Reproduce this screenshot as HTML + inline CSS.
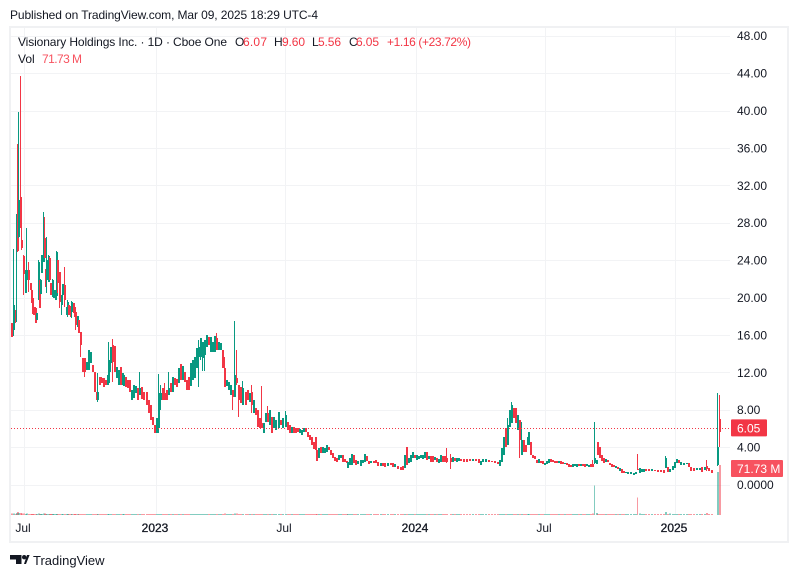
<!DOCTYPE html>
<html lang="en">
<head>
<meta charset="utf-8">
<title>Visionary Holdings Inc. chart</title>
<style>
html,body{margin:0;padding:0;background:#fff;width:798px;height:578px;overflow:hidden}
svg{display:block;font-family:"Liberation Sans",Arial,sans-serif}
</style>
</head>
<body>
<svg id="chart" xmlns="http://www.w3.org/2000/svg" width="798" height="578" viewBox="0 0 798 578">
  <rect x="0" y="0" width="798" height="578" fill="#ffffff"/>
  <text x="10" y="19" font-size="12" fill="#131722" textLength="308" lengthAdjust="spacing">Published on TradingView.com, Mar 09, 2025 18:29 UTC-4</text>
  <rect x="10" y="27" width="778" height="515" fill="none" stroke="#f0f1f3" stroke-width="2"/>
  <g id="grid" shape-rendering="crispEdges"></g>
  <g id="volume" shape-rendering="crispEdges"></g>
  <g id="candles" shape-rendering="crispEdges"></g>
  <g id="overlay"></g>
  <g id="axes"></g>
  <g font-size="12">
    <text x="18" y="46" fill="#131722" textLength="209" lengthAdjust="spacing">Visionary Holdings Inc. · 1D · Cboe One</text>
    <text x="235" y="46" fill="#131722">O</text>
    <text x="243" y="46" fill="#F23645" textLength="24" lengthAdjust="spacing">6.07</text>
    <text x="274" y="46" fill="#131722">H</text>
    <text x="282" y="46" fill="#F23645" textLength="23" lengthAdjust="spacing">9.60</text>
    <text x="312" y="46" fill="#131722">L</text>
    <text x="318" y="46" fill="#F23645" textLength="23" lengthAdjust="spacing">5.56</text>
    <text x="349" y="46" fill="#131722">C</text>
    <text x="356" y="46" fill="#F23645" textLength="23" lengthAdjust="spacing">6.05</text>
    <text x="387" y="46" fill="#F23645" textLength="84" lengthAdjust="spacing">+1.16 (+23.72%)</text>
    <text x="18" y="63" fill="#131722">Vol</text>
    <text x="42" y="63" fill="#F7525F" textLength="40" lengthAdjust="spacing">71.73 M</text>
  </g>
  <g>
    <path d="M10 555h11.5v9h-5.5v-4.5h-6z" fill="#131722"/>
    <circle cx="24.2" cy="557.2" r="2.2" fill="#131722"/>
    <path d="M24 564l3-9h2.6l-3.6 9z" fill="#131722"/>
    <text x="33" y="565" font-size="13" fill="#131722">TradingView</text>
  </g>
</svg>
<script>
const sessions=[
0,2,4,5,6,7,9,10,12,14,15,17,19,20,21,22,24,25,27,28,29,30,32,33,34,35,37,38,39,40,41,42,44,45,46,48,50,51,53,55,56,57,59,60,62,63,64,66,67,69,
71,73,75,77,79,81,83,85,86,88,90,92,94,96,97,99,101,103,105,107,109,111,112,114,116,118,120,122,124,126,128,130,132,135,137,139,141,143,145,147,149,151,153,155,157,159,161,163,165,167,
169,171,173,175,177,179,181,183,185,187,189,191,193,195,197,199,201,203,205,207,209,211,213,215,217,219,221,223,225,227,229,231,234,236,238,240,242,244,246,248,250,252,254,256,258,260,262,264,267,269,
271,274,276,278,280,282,284,286,288,290,292,294,296,298,300,302,304,305,307,309,311,313,315,317,319,321,323,325,327,329,331,333,335,336,338,340,342,344,346,349,351,353,355,357,359,362,364,366,369,371,
373,376,379,381,383,386,389,391,393,395,397,399,401,403,405,407,409,411,413,415,417,419,421,423,425,427,429,431,433,435,439,441,443,445,447,449,452,455,458,461,464,467,469,471,474,477,480,483,486,488,
490,492,494,496,498,500,502,504,506,508,510,512,514,516,517,519,521,523,525,527,529,531,533,535,537,539,541,543,545,547,549,551,553,555,557,559,561,563,565,567,569,571,573,575,577,579,581,583,585,586,
588,590,592,594,596,598,600,602,604,606,608,610,612,614,616,619,622,624,626,628,630,632,634,637,640,643,646,649,652,654,656,658,661,663,665,667,669,672,675,677,679,682,685,688,690,693,695,697,700,706,708];
const highs=[
17.3,25.2,18.7,28.9,36.4,39.8,43.7,27.4,24.5,22.9,27.4,23.8,21.5,20.8,19.9,19.0,19.0,18.3,24.0,21.9,22.0,24.5,29.1,28.6,23.0,26.5,24.5,24.3,21.5,21.3,22.0,20.8,20.8,25.0,24.0,22.7,20.3,21.4,23.3,19.0,19.7,19.2,19.1,19.6,19.4,19.0,18.4,18.0,17.6,16.3,
13.5,13.5,13.1,14.4,14.2,12.8,12.0,9.9,11.9,11.5,11.5,11.4,11.2,11.7,15.2,14.7,15.6,14.8,12.6,12.2,12.6,11.9,11.9,11.5,11.2,11.2,10.1,10.6,10.5,10.3,12.0,10.4,9.9,9.9,9.04,8.5,7.22,6.36,7.11,11.8,10.6,10.3,10.9,10.1,12.0,10.9,11.5,11.4,11.3,12.5,
12.9,12.7,12.0,11.2,11.5,13.0,13.3,13.6,14.6,15.5,15.7,15.2,15.5,16.0,15.8,15.8,15.2,15.9,16.2,15.2,15.1,14.4,13.6,11.2,11.0,10.6,10.1,17.5,14.4,10.6,10.4,11.1,9.9,10.1,9.8,10.6,9.04,8.18,7.97,7.11,10.5,6.58,7.65,8.4,7.97,7.22,7.22,6.9,7.75,6.9,
7.11,7.86,6.68,6.36,6.15,6.15,6.04,6.04,5.94,5.83,6.04,6.04,5.61,5.29,5.08,4.55,5.08,3.69,3.90,4.01,4.01,3.90,4.22,4.01,3.69,3.37,2.94,2.83,3.16,3.16,3.16,2.73,2.51,2.41,2.83,3.26,3.16,2.62,2.51,2.62,2.62,3.26,3.05,2.51,2.51,2.51,2.62,2.41,2.30,2.30,
2.30,2.30,2.30,2.30,2.19,1.98,1.87,1.98,3.16,4.01,2.83,3.16,3.48,3.16,3.16,3.05,3.16,3.16,3.48,3.48,3.05,3.05,3.05,2.94,2.83,2.73,3.16,3.05,3.05,3.90,3.26,2.94,2.83,2.83,2.83,2.73,2.73,2.73,2.73,2.73,2.73,2.73,2.51,2.73,2.73,2.62,2.51,2.51,2.41,2.62,
3.90,5.08,6.04,7.11,7.97,8.82,8.18,8.18,7.43,6.90,6.68,4.76,4.22,5.08,5.61,4.55,3.16,3.05,2.62,2.73,2.51,2.51,2.30,2.51,2.73,2.73,2.62,2.51,2.51,2.51,2.51,2.41,2.30,2.30,2.19,2.09,2.19,2.19,2.19,2.19,2.19,2.19,2.19,2.19,2.09,2.19,2.62,6.68,2.62,4.55,
4.01,3.16,2.83,2.73,2.62,2.30,2.19,2.09,1.98,1.87,1.76,1.66,1.44,1.34,1.34,1.34,1.23,1.34,3.26,1.76,1.66,1.66,1.66,1.66,1.66,1.55,1.55,1.55,1.55,3.05,1.87,1.66,1.98,2.41,2.73,2.62,2.41,2.30,2.30,2.30,1.87,1.76,1.76,1.76,1.87,1.87,2.62,1.76,1.55,9.79,9.60];
const lows=[
15.8,15.9,17.3,17.4,24.9,26.4,27.4,25.1,20.3,20.5,21.5,20.6,20.8,19.4,18.2,18.1,17.3,17.6,19.7,18.9,20.4,22.6,23.8,24.2,21.1,20.5,21.7,21.9,20.3,20.3,20.1,19.9,19.7,20.1,20.5,18.9,18.1,19.7,19.0,18.1,17.9,18.1,17.9,17.8,18.3,17.9,16.5,16.8,16.2,13.6,
12.0,11.5,12.2,12.2,13.0,12.0,9.9,9.04,8.8,10.6,10.9,10.4,10.6,10.6,10.9,12.0,11.0,12.0,11.4,10.6,10.6,10.6,10.5,10.4,10.3,9.9,9.04,9.25,9.8,9.04,9.6,9.15,9.04,8.5,7.65,6.9,6.36,5.51,5.51,5.51,7.97,9.04,9.04,9.04,9.6,9.9,9.9,10.6,10.4,10.9,
11.2,11.2,11.0,10.1,10.1,10.5,11.2,11.4,12.5,10.4,13.3,12.1,12.1,14.7,14.9,14.2,14.2,14.2,14.4,14.4,14.4,12.5,10.4,10.5,10.1,9.6,7.97,9.4,10.6,7.22,8.72,8.5,8.5,9.04,8.82,7.65,7.65,7.43,6.15,6.04,6.04,5.51,6.68,6.68,6.36,5.51,6.04,5.83,6.04,6.36,
6.04,6.15,5.83,5.51,5.51,5.51,5.51,5.61,5.51,5.29,5.61,5.61,5.08,4.76,4.22,3.80,3.69,2.51,2.83,3.37,3.37,3.37,3.48,3.69,3.16,2.83,2.51,2.41,2.62,2.83,2.41,2.41,2.30,1.76,2.09,2.09,2.30,2.09,2.19,1.98,2.30,2.41,2.51,2.19,2.30,2.30,2.30,1.98,1.98,1.98,
1.87,1.98,2.09,1.87,1.87,1.66,1.55,1.55,1.76,2.09,2.30,2.41,2.83,2.83,2.62,2.73,2.83,2.73,2.83,2.62,2.73,2.41,2.41,2.62,2.41,2.30,2.41,2.41,2.41,2.30,1.66,2.41,2.51,2.41,2.51,2.51,2.41,2.41,2.51,2.51,2.51,2.30,2.09,2.41,2.41,2.41,2.41,2.30,2.19,1.98,
2.41,3.16,4.01,4.22,6.15,6.58,7.11,6.58,5.83,2.83,3.16,3.48,3.48,4.22,4.22,3.16,2.83,2.73,2.30,2.30,2.30,2.19,2.09,2.19,2.30,2.41,2.41,2.30,2.30,2.30,2.19,2.19,2.19,2.09,1.87,1.87,1.87,1.98,1.87,1.98,1.98,1.98,1.87,1.98,1.87,1.87,1.87,2.19,2.19,3.16,
2.83,2.51,2.30,2.41,2.41,2.09,1.87,1.87,1.76,1.66,1.44,1.23,1.23,1.23,1.12,1.12,1.02,1.12,1.55,1.23,1.34,1.34,1.44,1.44,1.44,1.44,1.34,1.34,1.23,1.76,1.34,1.34,1.55,1.76,2.30,2.30,2.09,2.09,2.19,1.87,1.44,1.44,1.55,1.55,1.34,1.55,1.44,1.44,1.23,1.98,4.01];
const opens=[
17.3,16.5,18.6,24.9,28.9,26.5,30.7,26.2,24.4,20.5,21.9,22.9,21.5,20.8,19.9,19.0,18.9,17.6,19.9,21.9,20.4,22.6,23.8,26.4,23.0,21.9,21.7,24.2,21.5,21.3,20.2,19.9,19.7,20.2,24.0,22.7,19.2,20.3,21.3,18.1,18.7,19.2,19.1,18.4,19.4,19.0,18.4,16.8,17.6,16.3,
13.5,13.5,12.2,12.2,13.0,12.8,12.0,9.9,9.04,11.5,11.4,11.4,11.2,10.6,10.9,13.0,14.9,14.8,11.4,10.6,12.6,10.6,10.5,11.5,11.2,11.2,9.04,9.25,9.8,10.3,9.6,10.4,9.9,9.9,9.04,8.5,7.22,6.36,5.51,6.04,9.04,10.3,9.8,10.1,9.6,10.9,9.9,11.4,11.3,10.9,
12.9,11.2,12.0,11.2,11.5,10.5,11.2,11.4,12.5,13.6,13.6,13.5,13.8,14.7,15.8,14.2,14.2,14.2,15.7,14.4,14.4,14.4,12.5,10.5,10.1,9.6,10.1,9.4,11.4,10.6,10.4,8.5,9.9,10.1,8.82,9.9,7.65,8.18,7.97,7.11,6.58,5.51,6.68,7.65,6.36,7.22,6.04,5.83,6.04,6.9,
6.04,6.15,6.68,6.36,5.51,6.15,6.04,6.04,5.51,5.29,5.61,6.04,5.61,5.29,5.08,4.55,5.08,3.69,2.83,4.01,3.37,3.37,3.48,4.01,3.69,3.37,2.94,2.83,2.62,2.83,3.16,2.73,2.51,1.76,2.09,2.09,3.16,2.62,2.19,1.98,2.30,2.41,3.05,2.51,2.30,2.51,2.62,2.41,1.98,2.30,
2.30,1.98,2.30,2.30,1.87,1.98,1.87,1.98,1.76,4.01,2.30,2.41,2.83,3.16,2.62,2.73,2.83,2.73,2.83,3.48,2.73,3.05,3.05,2.62,2.83,2.30,2.41,3.05,3.05,2.83,2.83,2.41,2.83,2.41,2.51,2.73,2.73,2.73,2.73,2.51,2.73,2.73,2.09,2.41,2.41,2.62,2.51,2.51,2.41,1.98,
2.41,3.16,6.04,4.22,6.15,6.58,8.18,8.18,5.83,6.90,3.16,4.76,4.22,4.22,4.22,4.55,3.16,3.05,2.62,2.30,2.51,2.51,2.09,2.19,2.30,2.73,2.62,2.51,2.51,2.30,2.51,2.41,2.19,2.30,2.19,2.09,1.87,1.98,1.87,2.19,1.98,2.19,2.19,1.98,1.87,2.19,2.19,2.30,2.19,4.55,
4.01,3.16,2.83,2.41,2.62,2.30,2.19,2.09,1.76,1.87,1.44,1.66,1.44,1.23,1.12,1.12,1.02,1.12,1.66,1.23,1.34,1.34,1.66,1.66,1.44,1.55,1.55,1.55,1.55,1.76,1.87,1.34,1.55,1.76,2.30,2.62,2.09,2.09,2.19,2.30,1.87,1.76,1.55,1.55,1.87,1.55,1.98,1.76,1.55,2.09,7.01];
const closes=[
15.8,19.2,17.4,28.9,25.0,30.4,27.4,25.3,22.5,22.7,22.9,21.9,20.8,19.4,18.2,18.1,17.3,18.3,23.8,18.9,21.9,24.5,26.5,24.2,21.1,24.0,24.4,21.9,20.3,20.3,21.9,20.8,20.8,24.9,21.5,19.5,20.3,21.4,19.7,19.0,19.5,18.1,17.9,19.5,18.3,17.9,17.1,18.0,16.2,14.9,
12.0,12.0,13.1,14.4,14.2,12.0,9.9,9.04,9.9,10.6,10.9,10.4,10.6,11.7,13.3,14.7,13.1,12.0,12.6,12.2,10.6,11.9,11.7,10.4,10.3,9.9,10.1,10.6,10.5,9.04,10.3,9.15,9.04,8.5,7.65,6.9,6.36,5.51,7.11,9.8,9.8,9.04,9.04,9.04,10.3,9.9,11.5,10.6,10.4,12.5,
11.2,12.7,11.0,10.1,10.1,13.0,13.3,13.6,14.6,14.7,15.7,15.2,15.5,16.0,14.9,15.8,15.2,15.9,14.4,15.2,15.1,12.5,10.4,11.2,11.0,10.6,9.4,11.7,10.9,9.04,8.72,10.3,8.5,9.04,9.8,8.5,9.04,7.43,6.15,6.04,6.04,6.58,7.65,6.68,7.97,5.51,7.22,6.9,7.75,6.36,
7.11,7.43,5.83,5.51,6.15,5.51,5.51,5.61,5.94,5.83,6.04,5.61,5.08,4.76,4.22,3.80,3.69,2.51,3.90,3.37,4.01,3.90,4.22,3.69,3.16,2.83,2.51,2.41,3.16,3.16,2.41,2.41,2.30,2.41,2.83,3.26,2.30,2.09,2.51,2.62,2.62,3.26,2.51,2.19,2.51,2.30,2.30,1.98,2.30,1.98,
1.87,2.30,2.09,1.87,2.19,1.66,1.55,1.55,3.16,2.09,2.83,3.16,3.48,2.83,3.16,3.05,3.16,3.16,3.48,2.62,3.05,2.41,2.41,2.94,2.41,2.73,3.16,2.41,2.41,2.41,2.41,2.94,2.51,2.83,2.83,2.51,2.41,2.41,2.51,2.73,2.51,2.30,2.51,2.73,2.73,2.41,2.41,2.30,2.19,2.62,
3.90,5.08,4.01,6.36,7.97,8.50,7.11,6.58,7.43,4.76,4.76,3.48,3.48,5.08,5.61,3.16,2.83,2.73,2.30,2.73,2.30,2.19,2.30,2.51,2.73,2.41,2.41,2.30,2.30,2.51,2.19,2.19,2.30,2.09,1.87,1.87,2.19,2.19,2.19,1.98,2.19,1.98,1.87,2.19,2.09,1.87,1.87,2.83,2.62,3.16,
2.83,2.51,2.30,2.73,2.41,2.09,1.87,1.87,1.98,1.66,1.76,1.23,1.23,1.34,1.34,1.34,1.23,1.34,1.55,1.76,1.66,1.66,1.44,1.44,1.66,1.44,1.34,1.34,1.23,2.83,1.34,1.66,1.98,2.41,2.73,2.30,2.41,2.30,2.30,1.87,1.44,1.44,1.76,1.76,1.34,1.87,1.66,1.44,1.23,4.01,5.61];
const volumes=[
2,2,1.5,3,4.5,3,3,2,2,1.5,2,1.5,1.5,1.5,1.5,1.5,1.5,1.5,2,1.5,1.5,1.5,2,2,1.5,1.5,1.5,1.5,1.5,1.5,1.5,1.5,1.5,1.5,1.5,1.5,1.5,1.5,1.5,1.5,1.5,1.5,1.5,1.5,1.5,1.5,1.5,1.5,1.5,1.5,
1.5,1.5,1.5,1.5,1.5,1.5,1.5,1.5,1.5,1.5,1.5,1.5,1.5,1.5,1.5,1.5,1.5,1.5,1.5,1.5,1.5,1.5,1.5,1.5,1.5,1.5,1.5,1.5,1.5,1.5,1.5,1.5,1.5,1.5,1.5,1.5,1.5,1.5,1.5,1.5,1.5,1.5,1.5,1.5,1.5,1.5,1.5,1.5,1.5,1.5,
1.5,1.5,1.5,1.5,1.5,1.5,1.5,1.5,1.5,1.5,1.5,1.5,1.5,1.5,1.5,1.5,1.5,1.5,1.5,1.5,1.5,1.5,2,1.5,1.5,1.5,1.5,2.5,2,1.5,1.5,1.5,1.5,1.5,1.5,1.5,1.5,1.5,1.5,1.5,1.5,1.5,1.5,1.5,1.5,1.5,1.5,1.5,1.5,1.5,
1.5,1.5,1.5,1.5,1.5,1.5,1.5,1.5,1.5,1.5,1.5,1.5,1.5,1.5,1.5,1.5,1.5,1.5,1.5,1.5,1.5,1.5,1.5,1.5,1.5,1.5,1.5,1.5,1.5,1.5,1.5,1.5,1.5,1.5,1.5,1.5,1.5,1.5,1.5,1.5,1.5,1.5,1.5,1.5,1.5,1.5,1.5,1.5,1.5,1.5,
1.5,1.5,1.5,1.5,1.5,1.5,1.5,1.5,1.5,1.5,1.5,1.5,1.5,1.5,1.5,1.5,1.5,1.5,1.5,1.5,1.5,1.5,1.5,1.5,1.5,1.5,1.5,1.5,1.5,1.5,1.5,1.5,1.5,1.5,1.5,1.5,1.5,1.5,1.5,1.5,1.5,1.5,1.5,1.5,1.5,1.5,1.5,1.5,1.5,1.5,
1.5,1.5,1.5,1.5,1.5,1.5,1.5,1.5,1.5,1.5,1.5,1.5,1.5,1.5,1.5,1.5,1.5,1.5,1.5,1.5,1.5,1.5,1.5,1.5,1.5,1.5,1.5,1.5,1.5,1.5,1.5,1.5,1.5,1.5,1.5,1.5,1.5,1.5,1.5,1.5,1.5,1.5,1.5,1.5,1.5,1.5,2,42.5,3,1.5,
1.5,1.5,1.5,1.5,1.5,1.5,1.5,1.5,1.5,1.5,1.5,1.5,1.5,1.5,1.5,1.5,1.5,1.5,25,2.5,1.5,1.5,1.5,1.5,1.5,1.5,1.5,1.5,1.5,4,1.5,2,1.5,1.5,1.5,1.5,1.5,1.5,1.5,1.5,1.5,1.5,1.5,1.5,1.5,1.5,3,1.5,1.5,62,71.73];
const priceTicks=[48,44,40,36,32,28,24,20,16,12,8,4,0];
const priceLabels=['48.00','44.00','40.00','36.00','32.00','28.00','24.00','20.00','16.00','12.00','8.00','4.00','0.0000'];
const timeTicks=[12.5,144.5,273.5,404.5,533.5,663.5];
const timeLabels=['Jul','2023','Jul','2024','Jul','2025'];
const timeLabelIsYear=[false,true,false,true,false,true];
const lastPrice=6.05;
const lastVolume=71.73;

const UP='#089981',DOWN='#F23645';
const NS='http://www.w3.org/2000/svg';
function xScale(s){return 11+s;}
function yScale(p){return 484.5-9.35*p;}
function vScale(v){return 515-0.697*v;}

function make(tag,attrs,parent){
  const el=document.createElementNS(NS,tag);
  for(const k in attrs){el.setAttribute(k,attrs[k]);}
  parent.appendChild(el);
  return el;
}
const gridG=document.getElementById('grid');
const volG=document.getElementById('volume');
const candleG=document.getElementById('candles');
const overlayG=document.getElementById('overlay');
const axesG=document.getElementById('axes');

priceTicks.forEach(function(p,i){
  const yy=Math.round(yScale(p));
  const line=make('rect',{x:11,y:yy,width:719,height:1,fill:'#f2f3f5'},gridG);
  
  
  const label=make('text',{x:737,y:yScale(p)+4.5,'font-size':12,fill:'#131722'},axesG);
  
  
  label.textContent=priceLabels[i];
});
timeTicks.forEach(function(t,i){
  const xx=Math.round(xScale(t));
  const line=make('rect',{x:xx,y:28,width:1,height:486,fill:'#f2f3f5'},gridG);
  
  
  const label=make('text',{x:xScale(t)-0.5,y:532,'font-size':12,'text-anchor':'middle',fill:'#131722'},axesG);
  
  
  if(timeLabelIsYear[i]){label.setAttribute('stroke','#131722');label.setAttribute('stroke-width','0.3');}
  label.textContent=timeLabels[i];
});
sessions.forEach(function(s,i){
  const up=closes[i]>=opens[i];
  const xx=Math.round(xScale(s));
  const vt=vScale(volumes[i]);
  const spike=volumes[i]>20;
  const vb=make('rect',{x:xx,y:vt,width:spike?(i>=349?2:1):2,height:515-vt,fill:up?UP:DOWN,'fill-opacity':0.5},volG);
  
  
});
sessions.forEach(function(s,i){
  const up=closes[i]>=opens[i];
  const col=up?UP:DOWN;
  const xx=Math.round(xScale(s));
  const yH=Math.round(yScale(highs[i]));
  const yL=Math.round(yScale(lows[i]));
  const yT=Math.round(yScale(Math.max(opens[i],closes[i])));
  const yB=Math.round(yScale(Math.min(opens[i],closes[i])));
  const wick=make('rect',{x:xx,y:yH,width:1,height:Math.max(1,yL-yH),fill:col},candleG);
  
  
  const body=make('rect',{x:xx,y:yT,width:2,height:Math.max(1,yB-yT),fill:col},candleG);
  
  
});

const pl=make('line',{x1:11,x2:730,y1:Math.round(yScale(lastPrice))+0.5,y2:Math.round(yScale(lastPrice))+0.5,stroke:DOWN,'stroke-width':1,'stroke-dasharray':'1 2'},overlayG);



const badge=make('rect',{x:731,y:yScale(lastPrice)-8.5,width:36,height:17,rx:1,fill:DOWN},overlayG);


const badgeText=make('text',{x:737,y:yScale(lastPrice)+4.5,'font-size':12,fill:'#ffffff'},overlayG);


badgeText.textContent=lastPrice.toFixed(2);

const volBadge=make('rect',{x:731,y:460,width:52,height:17,rx:1,fill:'#F7525F'},overlayG);


const volText=make('text',{x:737,y:473,'font-size':12,fill:'#ffffff'},overlayG);


volText.textContent=lastVolume.toFixed(2)+' M';
</script>
</body>
</html>
